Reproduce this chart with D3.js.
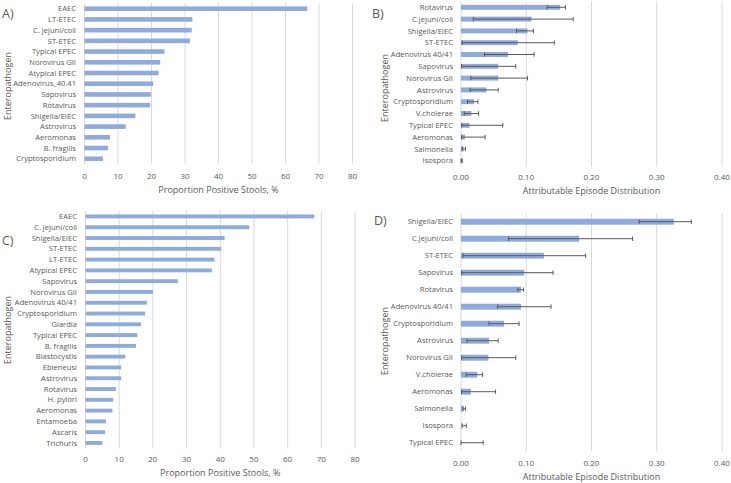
<!DOCTYPE html>
<html><head><meta charset="utf-8">
<script src="https://cdn.jsdelivr.net/npm/d3@7"></script>
<style>body{margin:0;background:#fff}svg{display:block}text{font-family:"Open Sans","Liberation Sans",sans-serif;fill:#595959}</style>
</head><body><svg id="c" width="731" height="483"></svg>
<script>
const catsA = ["EAEC","LT-ETEC","C. jejuni/coli","ST-ETEC","Typical EPEC","Norovirus GII","Atypical EPEC","Adenovirus_40.41","Sapovirus","Rotavirus","Shigella/EIEC","Astrovirus","Aeromonas","B. fragilis","Cryptosporidium"];
const valsA = [66.5,32.2,32.0,31.5,23.9,22.6,22.1,20.5,19.8,19.6,15.2,12.3,7.6,7.0,5.5];

const catsB = ["Rotavirus","C.jejuni/coli","Shigella/EIEC","ST-ETEC","Adenovirus 40/41","Sapovirus","Norovirus GII","Astrovirus","Cryptosporidium","V.cholerae","Typical EPEC","Aeromonas","Salmonella","Isospora"];
const valsB = [0.152,0.108,0.102,0.087,0.072,0.057,0.057,0.039,0.020,0.016,0.013,0.006,0.004,0.001];
const lowB  = [0.132,0.019,0.085,0.002,0.036,0.001,0.015,0.014,0.010,0.005,0.001,0.001,0.002,0.000];
const highB = [0.160,0.172,0.111,0.143,0.112,0.084,0.102,0.057,0.026,0.027,0.064,0.037,0.007,0.002];

const catsC = ["EAEC","C. jejuni/coli","Shigella/EIEC","ST-ETEC","LT-ETEC","Atypical EPEC","Sapovirus","Norovirus GII","Adenovirus 40/41","Cryptosporidium","Giardia","Typical EPEC","B. fragilis","Blastocystis","Ebieneusi","Astrovirus","Rotavirus","H. pylori","Aeromonas","Entamoeba","Ascaris","Trichuris"];
const valsC = [67.9,48.6,41.3,40.3,38.3,37.5,27.4,20.0,18.2,17.7,16.5,15.4,15.0,11.8,10.6,10.6,9.0,8.2,8.0,6.1,5.8,5.0];

const catsD = ["Shigella/EIEC","C.jejuni/coli","ST-ETEC","Sapovirus","Rotavirus","Adenovirus 40/41","Cryptosporidium","Astrovirus","Norovirus GII","V.cholerae","Aeromonas","Salmonella","Isospora","Typical EPEC"];
const valsD = [0.326,0.181,0.127,0.097,0.092,0.092,0.066,0.043,0.042,0.025,0.015,0.004,0.001,0.000];
const lowD  = [0.273,0.073,0.003,0.001,0.087,0.056,0.043,0.009,0.001,0.008,0.001,0.003,0.002,0.000];
const highD = [0.353,0.263,0.191,0.141,0.096,0.138,0.089,0.057,0.084,0.033,0.053,0.007,0.008,0.034];

const ticksPct = [0,10,20,30,40,50,60,70,80];
const ticksDist = [0,0.1,0.2,0.3,0.4];
const titlePct = "Proportion Positive Stools, %";
const titleDist = "Attributable Episode Distribution";

const svg = d3.select("#c");
const BAR = "#8FAADC", ERR = "#595959", GRID = "#D9D9D9";

function panel(o){
  const g = svg.append("g");
  const x = d3.scaleLinear().domain([o.ticks[0], o.ticks[o.ticks.length-1]]).range(o.xr);
  const y = d3.scaleBand().domain(o.cats).range(o.yr).padding(0);
  const bw = y.bandwidth();
  // gridlines
  g.selectAll(".grid").data(o.ticks).enter().append("line")
    .attr("x1",d=>x(d)).attr("x2",d=>x(d)).attr("y1",o.yr[0]).attr("y2",o.yr[1])
    .attr("stroke",GRID).attr("stroke-width",1);
  // bars
  const bh = bw*o.bf;
  g.selectAll(".bar").data(o.cats).enter().append("rect")
    .attr("x",x(0)).attr("y",d=>y(d)+bw/2-bh/2)
    .attr("width",(d,i)=>Math.max(0,x(o.vals[i])-x(0))).attr("height",bh).attr("fill",BAR);
  // error bars
  if(o.low){
    const eg = g.selectAll(".err").data(o.cats).enter().append("g");
    eg.append("line").attr("x1",(d,i)=>x(o.low[i])).attr("x2",(d,i)=>x(o.high[i]))
      .attr("y1",d=>y(d)+bw/2).attr("y2",d=>y(d)+bw/2).attr("stroke",ERR).attr("stroke-width",1);
    eg.append("line").attr("x1",(d,i)=>x(o.low[i])).attr("x2",(d,i)=>x(o.low[i]))
      .attr("y1",d=>y(d)+bw/2-2.2).attr("y2",d=>y(d)+bw/2+2.2).attr("stroke",ERR).attr("stroke-width",1);
    eg.append("line").attr("x1",(d,i)=>x(o.high[i])).attr("x2",(d,i)=>x(o.high[i]))
      .attr("y1",d=>y(d)+bw/2-2.2).attr("y2",d=>y(d)+bw/2+2.2).attr("stroke",ERR).attr("stroke-width",1);
  }
  // category labels
  g.selectAll(".lab").data(o.cats).enter().append("text")
    .attr("x",o.labX).attr("y",d=>y(d)+bw/2).attr("dy","0.35em")
    .attr("text-anchor","end").attr("font-size",o.labFs||7.6).text(d=>d);
  // tick labels
  g.selectAll(".tk").data(o.ticks).enter().append("text")
    .attr("x",d=>x(d)).attr("y",o.tickY).attr("dy","0.35em").attr("text-anchor","middle")
    .attr("font-size",8).text(d=>o.fmt(d));
  // axis title
  g.append("text").attr("x",(o.xr[0]+o.xr[1])/2).attr("y",o.titleY).attr("dy","0.35em")
    .attr("text-anchor","middle").attr("font-size",9).text(o.title);
  // y title
  g.append("text").attr("transform",`translate(${o.ytX},${o.ytY}) rotate(-90)`)
    .attr("text-anchor","middle").attr("dy","0.35em").attr("font-size",9).text("Enteropathogen");
  // panel letter
  g.append("text").attr("x",o.letX).attr("y",o.letY).attr("dy","0.35em")
    .attr("font-size",12.5).text(o.letter);
}

panel({cats:catsA, vals:valsA, ticks:ticksPct, fmt:d3.format("d"), xr:[84.5,352.5], yr:[3.35,164.1], bf:0.43,
  labX:76, tickY:176, titleY:189.5, title:titlePct, ytX:7.5, ytY:86, letX:2, letY:14, letter:"A)"});
panel({cats:catsB, vals:valsB, low:lowB, high:highB, ticks:ticksDist, fmt:d3.format(".2f"), xr:[461,722], yr:[1.4,166.6], bf:0.42,
  labX:453, tickY:176.7, titleY:191, title:titleDist, ytX:385, ytY:88, letX:372, letY:14, letter:"B)"});
panel({cats:catsC, vals:valsC, ticks:ticksPct, fmt:d3.format("d"), xr:[85.5,355], yr:[211.05,448.35], bf:0.36,
  labX:77, tickY:459.3, titleY:473.3, title:titlePct, ytX:7.5, ytY:330, letX:2, letY:241, letter:"C)"});
panel({cats:catsD, vals:valsD, low:lowD, high:highD, ticks:ticksDist, fmt:d3.format(".2f"), xr:[461,722], yr:[213.2,451.2], bf:0.35,
  labX:453, tickY:463.3, titleY:476.7, title:titleDist, ytX:385, ytY:341, letX:374, letY:221, letter:"D)"});
</script></body></html>
